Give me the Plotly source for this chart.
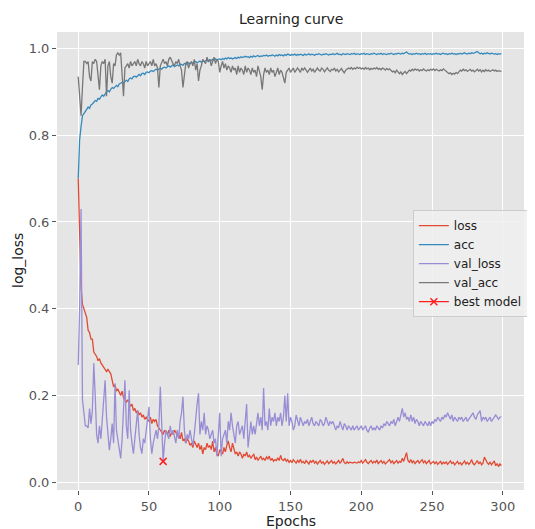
import plotly.graph_objects as go

epochs = list(range(300))

loss = [
    0.70, 0.55, 0.45, 0.41, 0.40, 0.39, 0.38, 0.35, 0.345, 0.33,
    0.33, 0.30, 0.295, 0.29, 0.28, 0.285, 0.275, 0.27, 0.265, 0.26,
    0.255, 0.26, 0.255, 0.25, 0.235, 0.22, 0.225, 0.21, 0.215, 0.205,
    0.20, 0.21, 0.195, 0.19, 0.185, 0.19, 0.18, 0.175, 0.18, 0.165,
    0.17, 0.16, 0.165, 0.155, 0.16, 0.15, 0.155, 0.145, 0.15, 0.145,
    0.14, 0.15, 0.135, 0.145, 0.14, 0.145, 0.13, 0.125, 0.12, 0.115,
    0.11, 0.12, 0.115, 0.11, 0.12, 0.105, 0.115, 0.11, 0.12, 0.115,
    0.105, 0.11, 0.10, 0.115, 0.095, 0.10, 0.09, 0.10, 0.095, 0.085,
    0.09, 0.08, 0.095, 0.085, 0.08, 0.09, 0.075, 0.085, 0.065, 0.08,
    0.075, 0.09, 0.08, 0.085, 0.075, 0.095, 0.07, 0.08, 0.065, 0.06,
    0.075, 0.07, 0.065, 0.08, 0.07, 0.085, 0.095, 0.08, 0.07, 0.09,
    0.075, 0.065, 0.07, 0.06, 0.07, 0.065, 0.055, 0.065, 0.06, 0.07,
    0.058, 0.062, 0.055, 0.06, 0.065, 0.052, 0.058, 0.05, 0.056, 0.06,
    0.052, 0.055, 0.05, 0.058, 0.054, 0.06, 0.05, 0.055, 0.048, 0.052,
    0.05, 0.056, 0.05, 0.062, 0.052, 0.05, 0.055, 0.048, 0.052, 0.046,
    0.05, 0.045, 0.052, 0.048, 0.044, 0.05, 0.046, 0.053, 0.045, 0.048,
    0.043, 0.05, 0.047, 0.042, 0.049, 0.046, 0.051, 0.044, 0.048, 0.042,
    0.046, 0.05, 0.044, 0.047, 0.041, 0.045, 0.049, 0.043, 0.046, 0.05,
    0.044, 0.047, 0.042, 0.046, 0.05, 0.044, 0.048, 0.055, 0.045, 0.043,
    0.047, 0.044, 0.046, 0.045, 0.044, 0.046, 0.045, 0.044, 0.047, 0.045,
    0.05, 0.044, 0.048, 0.052, 0.046, 0.043, 0.047, 0.05, 0.044, 0.048,
    0.045, 0.051, 0.043, 0.047, 0.05, 0.044, 0.048, 0.042, 0.046, 0.049,
    0.052, 0.045, 0.049, 0.043, 0.047, 0.05, 0.044, 0.048, 0.046, 0.055,
    0.048, 0.06, 0.068, 0.05, 0.046, 0.052, 0.045, 0.049, 0.043, 0.047,
    0.05, 0.044, 0.047, 0.052, 0.045, 0.049, 0.043, 0.046, 0.05, 0.042,
    0.045, 0.048, 0.043, 0.047, 0.041, 0.044, 0.048, 0.042, 0.046, 0.043,
    0.047, 0.041, 0.045, 0.049, 0.043, 0.046, 0.04, 0.044, 0.048, 0.042,
    0.045, 0.04, 0.044, 0.049, 0.042, 0.046, 0.041, 0.045, 0.052, 0.043,
    0.04, 0.045, 0.05, 0.042, 0.047, 0.04, 0.044, 0.058, 0.05, 0.045,
    0.041, 0.046, 0.04, 0.044, 0.049, 0.038, 0.043, 0.036, 0.042, 0.038,
]

acc = [
    0.70, 0.79, 0.82, 0.845, 0.85, 0.855, 0.86, 0.865, 0.862, 0.87,
    0.872, 0.875, 0.88, 0.878, 0.885, 0.883, 0.89, 0.893, 0.89, 0.897,
    0.9, 0.903, 0.9, 0.906, 0.91, 0.908, 0.913, 0.915, 0.912, 0.918,
    0.92, 0.922, 0.92, 0.925, 0.927, 0.924, 0.93, 0.932, 0.93, 0.935,
    0.936, 0.934, 0.938, 0.94, 0.937, 0.942, 0.943, 0.94, 0.945, 0.946,
    0.944, 0.948, 0.949, 0.947, 0.95, 0.952, 0.95, 0.953, 0.955, 0.952,
    0.956, 0.957, 0.955, 0.958, 0.96, 0.957, 0.96, 0.962, 0.958, 0.961,
    0.962, 0.96, 0.964, 0.963, 0.961, 0.965, 0.966, 0.963, 0.967, 0.965,
    0.968, 0.966, 0.969, 0.97, 0.967, 0.97, 0.971, 0.968, 0.972, 0.97,
    0.972, 0.973, 0.97, 0.974, 0.972, 0.975, 0.973, 0.976, 0.974, 0.975,
    0.976, 0.974, 0.977, 0.975, 0.978, 0.976, 0.979, 0.977, 0.978, 0.976,
    0.978, 0.979, 0.977, 0.98, 0.978, 0.981, 0.979, 0.98, 0.982, 0.98,
    0.981, 0.979, 0.982, 0.98, 0.983, 0.981, 0.982, 0.984, 0.981, 0.983,
    0.982, 0.984, 0.983, 0.985, 0.982, 0.984, 0.983, 0.985, 0.984, 0.982,
    0.985, 0.983, 0.986, 0.984, 0.985, 0.983, 0.986, 0.984, 0.987, 0.985,
    0.984, 0.986, 0.985, 0.987, 0.984, 0.986, 0.985, 0.987, 0.986, 0.984,
    0.987, 0.985, 0.986, 0.988, 0.985, 0.987, 0.986, 0.984, 0.987, 0.986,
    0.988, 0.986, 0.985, 0.987, 0.986, 0.988, 0.987, 0.985, 0.987, 0.986,
    0.988, 0.986, 0.987, 0.989, 0.986, 0.987, 0.985, 0.988, 0.987, 0.986,
    0.988, 0.987, 0.986, 0.988, 0.987, 0.989, 0.986, 0.988, 0.987, 0.986,
    0.988, 0.987, 0.989, 0.986, 0.988, 0.987, 0.986, 0.988, 0.987, 0.989,
    0.987, 0.986, 0.988, 0.987, 0.989, 0.986, 0.988, 0.987, 0.986, 0.988,
    0.987, 0.989, 0.988, 0.986, 0.988, 0.987, 0.989, 0.988, 0.987, 0.989,
    0.988, 0.99, 0.992, 0.989, 0.987, 0.988, 0.986, 0.988, 0.987, 0.989,
    0.987, 0.988, 0.986, 0.988, 0.987, 0.989, 0.986, 0.988, 0.987, 0.988,
    0.986, 0.988, 0.987, 0.989, 0.987, 0.988, 0.986, 0.988, 0.989, 0.987,
    0.988, 0.986, 0.988, 0.987, 0.989, 0.987, 0.988, 0.986, 0.988, 0.987,
    0.989, 0.987, 0.988, 0.99, 0.988, 0.987, 0.989, 0.988, 0.99, 0.989,
    0.99, 0.991, 0.993, 0.99, 0.988, 0.989, 0.987, 0.989, 0.988, 0.99,
    0.988, 0.987, 0.989, 0.988, 0.987, 0.988, 0.986, 0.988, 0.987, 0.988,
]

val_loss = [
    0.27, 0.40, 0.63, 0.19, 0.16, 0.13, 0.13, 0.125, 0.17, 0.135,
    0.165, 0.275, 0.20, 0.11, 0.09, 0.13, 0.10, 0.14, 0.18, 0.235,
    0.15, 0.10, 0.074, 0.10, 0.135, 0.09, 0.228, 0.12, 0.10, 0.074,
    0.055, 0.10, 0.16, 0.235, 0.13, 0.10, 0.212, 0.12, 0.09, 0.066,
    0.10, 0.13, 0.165, 0.11, 0.08, 0.066, 0.10, 0.09, 0.12, 0.14,
    0.174, 0.10, 0.066, 0.09, 0.11, 0.12, 0.10, 0.13, 0.22, 0.12,
    0.048, 0.09, 0.12, 0.11, 0.10, 0.13, 0.11, 0.12, 0.10, 0.09,
    0.12, 0.10, 0.14, 0.16, 0.197, 0.12, 0.09, 0.11, 0.10, 0.12,
    0.10, 0.085, 0.11, 0.15, 0.18, 0.205, 0.11, 0.14, 0.12, 0.16,
    0.11, 0.13, 0.12, 0.10, 0.11, 0.12, 0.09, 0.10, 0.06, 0.12,
    0.16, 0.06, 0.10, 0.11, 0.12, 0.09, 0.14, 0.12, 0.16, 0.13,
    0.11, 0.09, 0.13, 0.14, 0.11, 0.12, 0.13, 0.10, 0.15, 0.18,
    0.08, 0.12, 0.14, 0.11, 0.13, 0.11, 0.14, 0.16, 0.13, 0.15,
    0.12, 0.217, 0.13, 0.14, 0.12, 0.17, 0.13, 0.15, 0.14, 0.16,
    0.13, 0.15, 0.14, 0.16, 0.13, 0.15, 0.20, 0.14, 0.205, 0.13,
    0.15, 0.14, 0.12, 0.13, 0.155, 0.14, 0.13, 0.15, 0.14, 0.13,
    0.14, 0.135, 0.145, 0.13, 0.14, 0.15, 0.135, 0.13, 0.14, 0.135,
    0.13, 0.145, 0.14, 0.13, 0.135, 0.15, 0.14, 0.13, 0.14, 0.135,
    0.14, 0.13, 0.12, 0.13, 0.125, 0.14, 0.13, 0.12, 0.135, 0.13,
    0.12, 0.13, 0.125, 0.12, 0.13, 0.12, 0.125, 0.13, 0.12, 0.125,
    0.13, 0.12, 0.125, 0.13, 0.12, 0.115, 0.125, 0.13, 0.12, 0.125,
    0.12, 0.13, 0.125, 0.12, 0.13, 0.125, 0.135, 0.13, 0.14, 0.135,
    0.13, 0.14, 0.135, 0.145, 0.13, 0.14, 0.15, 0.14, 0.16, 0.17,
    0.15, 0.16, 0.145, 0.15, 0.14, 0.155, 0.14, 0.15, 0.135, 0.145,
    0.14, 0.13, 0.14, 0.135, 0.13, 0.14, 0.135, 0.13, 0.14, 0.13,
    0.14, 0.135, 0.145, 0.14, 0.15, 0.145, 0.14, 0.15, 0.145, 0.155,
    0.15, 0.16, 0.15, 0.145, 0.155, 0.14, 0.15, 0.145, 0.14, 0.15,
    0.145, 0.15, 0.14, 0.145, 0.15, 0.14, 0.145, 0.15, 0.155, 0.16,
    0.15, 0.145, 0.155, 0.16, 0.165, 0.14, 0.15, 0.145, 0.15, 0.14,
    0.145, 0.15, 0.14, 0.145, 0.15, 0.155, 0.15, 0.145, 0.15, 0.15,
]

val_acc = [
    0.935, 0.89, 0.845, 0.91, 0.97, 0.97, 0.965, 0.97, 0.935, 0.925,
    0.97, 0.965, 0.975, 0.97, 0.93, 0.905, 0.96, 0.97, 0.965, 0.975,
    0.89, 0.96, 0.97, 0.935, 0.92, 0.965, 0.96, 0.985, 0.99, 0.985,
    0.99, 0.95, 0.89, 0.955, 0.96, 0.965, 0.955, 0.97, 0.96, 0.965,
    0.97, 0.96, 0.975, 0.965, 0.96, 0.97, 0.965, 0.955, 0.97, 0.96,
    0.965, 0.97, 0.96, 0.975, 0.96, 0.965, 0.955, 0.91, 0.96, 0.97,
    0.975, 0.965, 0.97, 0.96, 0.975, 0.98, 0.97, 0.965, 0.96, 0.97,
    0.965, 0.975, 0.96, 0.95, 0.91, 0.94, 0.965, 0.97, 0.955, 0.965,
    0.97, 0.96, 0.975, 0.95, 0.965, 0.925, 0.95, 0.96, 0.975, 0.97,
    0.965, 0.98, 0.97, 0.975, 0.96, 0.97, 0.98, 0.965, 0.975, 0.97,
    0.945, 0.96, 0.97, 0.955, 0.965, 0.95, 0.96, 0.955, 0.945, 0.96,
    0.95, 0.955, 0.94, 0.96, 0.945, 0.955, 0.95, 0.94, 0.96, 0.945,
    0.955, 0.95, 0.94, 0.955, 0.945, 0.95, 0.935, 0.96, 0.945, 0.935,
    0.905, 0.94, 0.955, 0.945, 0.95, 0.94, 0.955, 0.945, 0.95, 0.935,
    0.945, 0.955, 0.94, 0.95, 0.945, 0.935, 0.92, 0.945, 0.95, 0.955,
    0.945, 0.95, 0.955, 0.945, 0.95, 0.955, 0.95, 0.945, 0.955, 0.95,
    0.955, 0.95, 0.945, 0.95, 0.955, 0.948, 0.952, 0.945, 0.95, 0.955,
    0.95, 0.948, 0.955, 0.952, 0.946, 0.95, 0.955, 0.95, 0.947, 0.952,
    0.95, 0.955, 0.948, 0.952, 0.946, 0.95, 0.954, 0.948, 0.944, 0.95,
    0.952, 0.955, 0.953, 0.956, 0.952, 0.955, 0.953, 0.957, 0.954, 0.956,
    0.953, 0.955, 0.952, 0.956, 0.953, 0.955, 0.951, 0.954, 0.952, 0.955,
    0.953, 0.956, 0.952, 0.954, 0.951, 0.955, 0.953, 0.95, 0.954, 0.951,
    0.953, 0.95, 0.946, 0.948, 0.944, 0.95, 0.945, 0.942, 0.946, 0.94,
    0.944, 0.947, 0.942, 0.946, 0.95, 0.948, 0.952, 0.949, 0.953, 0.95,
    0.952, 0.948, 0.951, 0.949, 0.953, 0.95, 0.948, 0.951, 0.949, 0.952,
    0.95, 0.953, 0.949, 0.952, 0.95, 0.948, 0.951, 0.949, 0.953, 0.95,
    0.948, 0.945, 0.942, 0.944, 0.94, 0.943, 0.941, 0.945, 0.942, 0.946,
    0.95, 0.948, 0.952, 0.949, 0.951, 0.947, 0.95, 0.952, 0.948, 0.95,
    0.946, 0.949, 0.952, 0.948, 0.951, 0.946, 0.95, 0.947, 0.951, 0.948,
    0.95, 0.947, 0.949, 0.951, 0.948, 0.95, 0.947, 0.949, 0.948, 0.947,
]

x_ticks = [0, 50, 100, 150, 200, 250, 300]
y_ticks = [0.0, 0.2, 0.4, 0.6, 0.8, 1.0]

best_epoch = min(range(len(val_loss)), key=lambda i: val_loss[i])
best_value = val_loss[best_epoch]

FONT = "DejaVu Sans"
# The page body has an 8px default margin, so the figure is drawn 8px in
W, H = 527, 521
ML, MR, MT, MB = 49, 11, 24, 39
PH = H - MT - MB
PW = W - ML - MR

fig = go.Figure()
fig.add_trace(go.Scatter(x=epochs, y=loss, mode="lines", name="loss",
                         line=dict(color="#E24A33", width=1.3)))
fig.add_trace(go.Scatter(x=epochs, y=acc, mode="lines", name="acc",
                         line=dict(color="#348ABD", width=1.3)))
fig.add_trace(go.Scatter(x=epochs, y=val_loss, mode="lines", name="val_loss",
                         line=dict(color="#988ED5", width=1.3)))
fig.add_trace(go.Scatter(x=epochs, y=val_acc, mode="lines", name="val_acc",
                         line=dict(color="#777777", width=1.3)))
fig.add_trace(go.Scatter(x=[best_epoch], y=[best_value], mode="lines+markers",
                         name="best model",
                         line=dict(color="#FF2020", width=1.3),
                         marker=dict(symbol="x-thin", size=7,
                                     line=dict(color="#FF2020", width=1.5))))

fig.update_layout(
    width=W, height=H,
    paper_bgcolor="white",
    plot_bgcolor="#E5E5E5",
    margin=dict(l=ML, r=MR, t=MT, b=MB, autoexpand=False),
    font=dict(family=FONT, size=13, color="#555555"),
    showlegend=True,
    legend=dict(x=0.762, y=0.611, xanchor="left", yanchor="top",
                bgcolor="rgba(240,240,240,0.85)", bordercolor="#CCCCCC",
                borderwidth=1, font=dict(family=FONT, size=12, color="#222222"),
                tracegroupgap=0, itemwidth=30),
    annotations=[
        dict(text="Learning curve", xref="paper", yref="paper",
             x=0.5, y=1 + 13 / PH, xanchor="center", yanchor="middle",
             showarrow=False, font=dict(family=FONT, size=14, color="#222222")),
        dict(text="Epochs", xref="paper", yref="paper",
             x=0.5, y=-30.5 / PH, xanchor="center", yanchor="middle",
             showarrow=False, font=dict(family=FONT, size=14, color="#222222")),
        dict(text="log_loss", xref="paper", yref="paper", textangle=-90,
             x=-(ML - 10) / PW, y=0.5, xanchor="center",
             yanchor="middle", showarrow=False,
             font=dict(family=FONT, size=14, color="#222222")),
    ],
)
fig.update_xaxes(range=[-15, 315], tickvals=x_ticks, ticks="outside",
                 ticklen=4, tickcolor="#555555", showgrid=True,
                 gridcolor="white", gridwidth=1, zeroline=False,
                 showline=False, automargin=False,
                 tickfont=dict(size=13, color="#555555"))
fig.update_yaxes(range=[-0.018, 1.038], tickvals=y_ticks, tickformat=".1f",
                 ticks="outside", ticklen=4, tickcolor="#555555",
                 showgrid=True, gridcolor="white", gridwidth=1,
                 zeroline=False, showline=False, automargin=False,
                 tickfont=dict(size=13, color="#555555"))

fig.write_html("out.html")
